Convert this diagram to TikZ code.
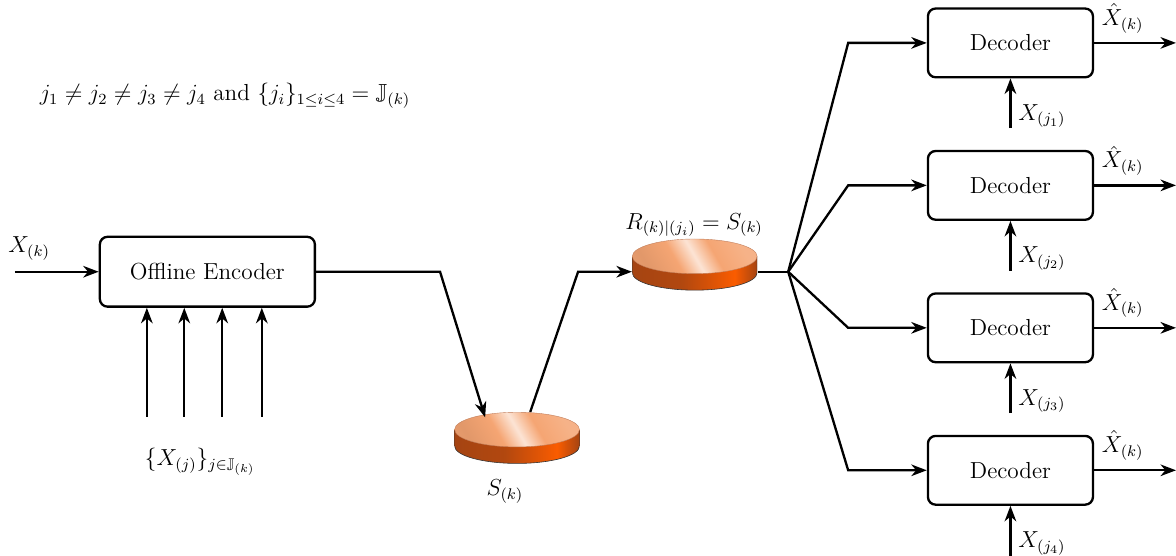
\documentclass[tikz,border=0pt]{standalone}
\usepackage{amssymb}
\usetikzlibrary{positioning,arrows.meta}
\definecolor{disktopc}{RGB}{245,165,115}
\definecolor{disksidedark}{RGB}{165,68,18}
\definecolor{disksidelight}{RGB}{250,92,0}
\pgfdeclarehorizontalshading{diskside}{100bp}{color(0bp)=(disksidedark); color(25bp)=(disksidedark); color(45bp)=(disksidedark!85!disksidelight); color(66bp)=(disksidelight); color(75bp)=(disksidedark); color(100bp)=(disksidedark)}
\pgfdeclarehorizontalshading{disktop}{100bp}{color(0bp)=(disktopc); color(25bp)=(disktopc!92!black); color(40bp)=(disktopc); color(50bp)=(disktopc!30!white); color(60bp)=(disktopc); color(75bp)=(disktopc!85!white); color(100bp)=(disktopc!85!white)}
\tikzstyle{encbox} = [rectangle, rounded corners, minimum width=3.91cm, minimum height=1.27cm, draw=black, line width=1.2pt]
\tikzstyle{decbox} = [rectangle, rounded corners, minimum width=3cm, minimum height=1.25cm, draw=black, line width=1.2pt]
\tikzstyle{disk} = [minimum width=2.27cm, minimum height=0.93cm, inner sep=0pt, path picture={
    \path[shading=diskside, draw=black!80, line width=0.3pt] ([yshift=1.5mm]path picture bounding box.west) -- ++(0,-3mm) arc[start angle=180, end angle=360, x radius=1.135cm, y radius=0.315cm] -- ++(0,3mm) -- cycle;
    \path[shading=disktop, shading angle=30, draw=disksidedark!70, line width=0.2pt] ([yshift=1.5mm]path picture bounding box.center) ellipse[x radius=1.135cm, y radius=0.315cm];
}]
\tikzstyle{arrow} = [line width=1.2pt,->,>={Stealth[length=8pt,width=6pt,inset=2.5pt]}]
\tikzstyle{line} = [line width=1.2pt]

\begin{document}
\begin{tikzpicture}[font=\large]
    \useasboundingbox (0,0) rectangle (21.38,10.09);

    \node (note) at (4.09,8.35) {$j_1 \neq j_2 \neq j_3 \neq j_4$ and $\{j_i\}_{1\leq i\leq 4} = \mathbb{J}_{(k)}$};

    % encoder
    \node (enc) [encbox] at (3.77,5.15) {Offline Encoder};
    \coordinate (xin) at (0.27,5.15);
    \node (xlabel) at (0.53,5.57) {$X_{(k)}$};
    \draw[arrow] (xin) -- (enc);
    \foreach \x [count=\i] in {2.67,3.35,4.04,4.76} {
        \coordinate (side\i) at (\x,2.51);
        \draw[arrow] (side\i) -- (side\i |- enc.south);
    }
    \node (sidelabel) at (3.64,1.69) {$\{X_{(j)}\}_{j\in\mathbb{J}_{(k)}}$};

    % storage
    \node (d1) [disk] at (9.4,2.13) {};
    \node (d1label) at (9.18,1.15) {$S_{(k)}$};
    \node (d2) [disk] at (12.63,5.28) {};
    \node (d2label) at (12.62,6.0) {$R_{(k)|(j_i)} = S_{(k)}$};
    \coordinate (bend1) at (8.0,5.15);
    \coordinate (bend2) at (10.51,5.15);
    \coordinate (split) at (14.33,5.15);
    \draw[arrow] (enc.east) -- (bend1) -- ([shift={(-0.58,-0.1)}]d1.north);
    \draw[arrow] ([xshift=0.24cm]d1.north) -- (bend2) -- ([yshift=-0.13cm]d2.west);
    \draw[line] ([yshift=-0.13cm]d2.east) -- (split);

    % decoders
    \foreach \y [count=\i] in {9.31,6.72,4.13,1.54} {
        \node (dec\i) [decbox] at (18.37,\y) {Decoder};
        \coordinate (turn\i) at (15.42,\y);
        \coordinate (out\i) at (21.38,\y);
        \coordinate (key\i) at (18.37,\y-1.55);
        \node (hat\i) [anchor=south west, inner sep=1pt] at ([shift={(0.1,0.14)}]dec\i.east) {$\hat{X}_{(k)}$};
        \node (keylab\i) [anchor=west, inner sep=1pt] at (18.47,\y-1.33) {$X_{(j_\i)}$};
        \draw[arrow] (split) -- (turn\i) -- (dec\i);
        \draw[arrow] (dec\i) -- (out\i);
        \draw[arrow] (key\i) -- (dec\i.south);
    }
\end{tikzpicture}
\end{document}
